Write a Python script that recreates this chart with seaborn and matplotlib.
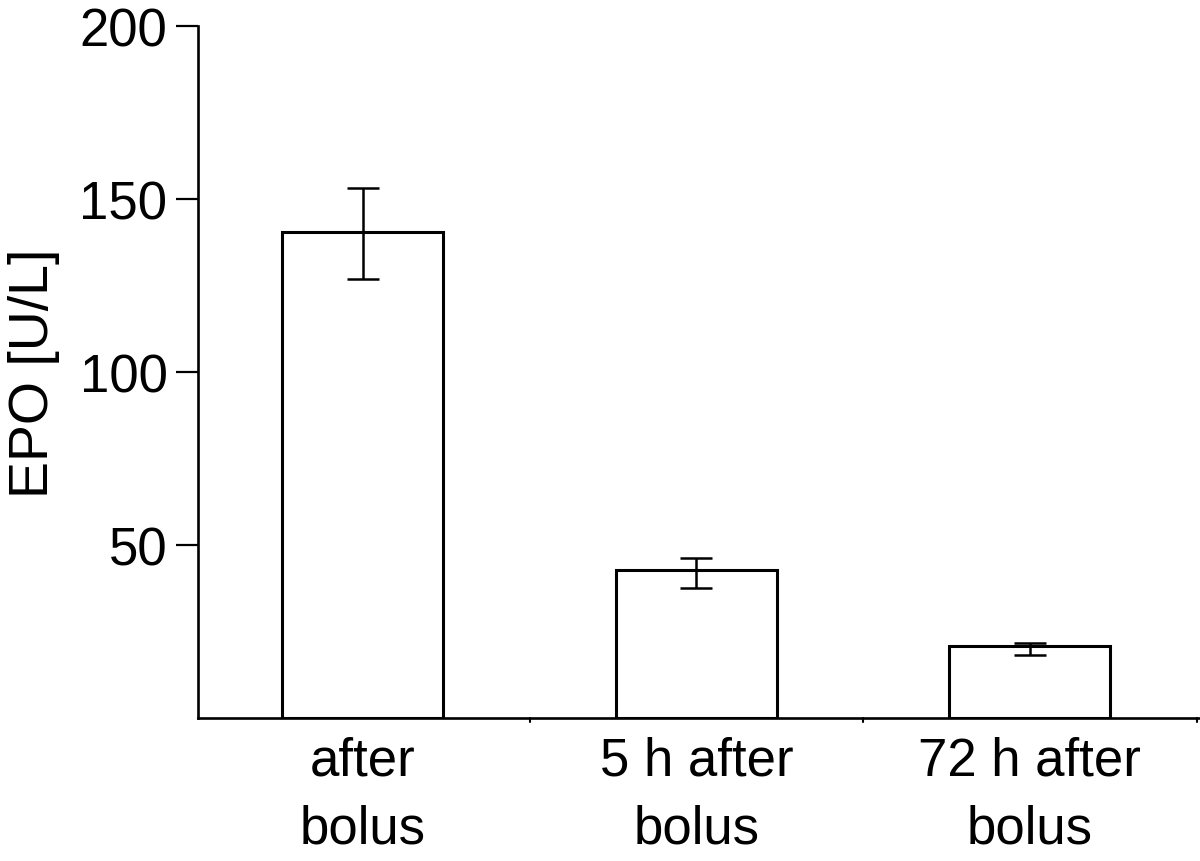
import matplotlib
matplotlib.use('Agg')
import matplotlib.pyplot as plt
import pandas as pd
import seaborn as sns

# Data
groups = ['after\nbolus', '5 h after\nbolus', '72 h after\nbolus']
epo_mean = [140.5, 42.6, 20.9]
err_low = [13.8, 5.0, 2.7]
err_high = [12.5, 3.6, 0.8]

sns.set_style('ticks')
plt.rcParams['font.family'] = ['Liberation Sans', 'DejaVu Sans']
plt.rcParams['text.color'] = 'black'
plt.rcParams['xtick.color'] = 'black'
plt.rcParams['ytick.color'] = 'black'
plt.rcParams['axes.labelcolor'] = 'black'

df = pd.DataFrame({'group': groups, 'epo': epo_mean})

fig = plt.figure(figsize=(12, 8.62), dpi=100)
ax = fig.add_axes([0.165, 0.166, 0.835, 0.803])

sns.barplot(data=df, x='group', y='epo', order=groups, color='white',
            edgecolor='black', linewidth=2.2, width=0.483, ax=ax)
ax.errorbar(range(len(groups)), epo_mean, yerr=[err_low, err_high],
            fmt='none', ecolor='black', elinewidth=1.8, capsize=11.5, capthick=1.8)

ax.set_ylim(0, 200)
ax.set_xlim(-0.494, 2.51)
ax.set_yticks([50, 100, 150, 200])
ax.set_xticks([0, 1, 2])
ax.set_xticklabels(groups, fontsize=38, linespacing=1.45)
ax.tick_params(axis='x', length=0, pad=13)
ax.tick_params(axis='y', labelsize=38, length=16, width=1.6, direction='out', pad=6)
for xb in [0.5, 1.5, 2.5]:
    ax.plot([xb, xb], [0, -1.2], color='black', lw=1.5, clip_on=False)

ax.set_xlabel('')
ax.set_ylabel('EPO [U/L]', fontsize=40, labelpad=14)

sns.despine(ax=ax)
for s in ['left', 'bottom']:
    ax.spines[s].set_linewidth(1.9)
    ax.spines[s].set_color('black')

fig.savefig('out.png', dpi=100)
